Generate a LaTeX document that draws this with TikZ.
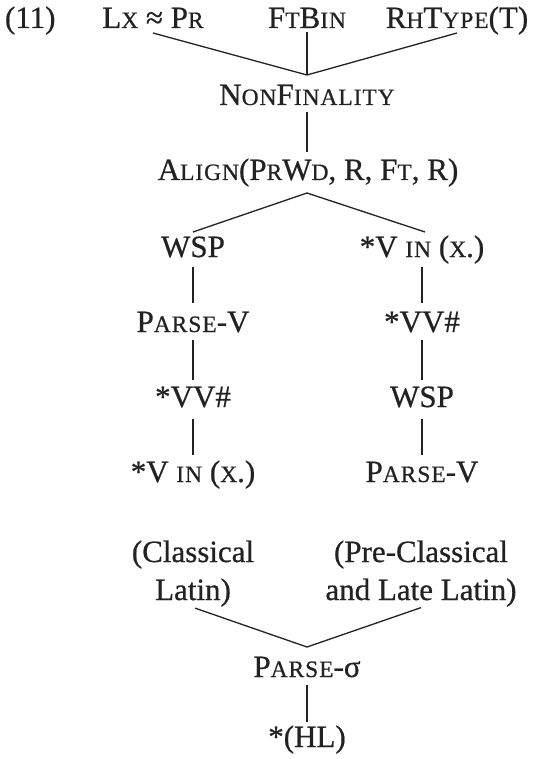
\documentclass[tikz,border=0pt]{standalone}
\usepackage{fontspec}
\setmainfont[FakeBold=0.6]{Liberation Serif}
\newfontfamily\scf[LetterSpace=4,FakeBold=0.6]{Liberation Serif}
\newcommand\smc[1]{{\fontsize{23.5}{24}\scf #1}}
\usetikzlibrary{calc}
\definecolor{ink}{HTML}{222222}
\begin{document}
\begin{tikzpicture}[x=1pt,y=-1pt,
  lab/.style={font=\fontsize{31}{38}\selectfont, text=ink, inner sep=0pt, outer sep=0pt,
              anchor=base, text height=20pt, text depth=0pt},
  two/.style={font=\fontsize{31}{38}\selectfont, text=ink, inner sep=0pt, outer sep=0pt,
              anchor=north, align=center},
  edge/.style={draw=ink, line width=1.3pt}]
\useasboundingbox[fill=white] (0,0) rectangle (537,759);

% top row
\node[lab, anchor=base west] (n11) at (5,28) {(11)};
\node[lab] (lx) at (153,28) {L\smc{X} ≈ P\smc{R}};
\node[lab] (ft) at (307,28) {F\smc{T}B\smc{IN}};
\node[lab] (rh) at (457,28) {R\smc{H}T\smc{YPE}(T)};

\node[lab] (nf) at (307,105) {N\smc{ON}F\smc{INALITY}};
\node[lab] (al) at (308,180) {A\smc{LIGN}(P\smc{R}W\smc{D}, R, F\smc{T}, R)};

% left column
\node[lab] (wsp1) at (193,257) {WSP};
\node[lab] (pv1)  at (193,332) {P\smc{ARSE}-V};
\node[lab] (vv1)  at (193,407) {*VV\#};
\node[lab] (vin2) at (193,482) {*V \smc{IN} (\smc{X}.)};

% right column
\node[lab] (vin1) at (422,257) {*V \smc{IN} (\smc{X}.)};
\node[lab] (vv2)  at (422,332) {*VV\#};
\node[lab] (wsp2) at (422,407) {WSP};
\node[lab] (pv2)  at (422,482) {P\smc{ARSE}-V};

% language labels
\node[two] (cl)  at (193,540.5) {(Classical\\Latin)};
\node[two] (pcl) at (421,540.5) {(Pre-Classical\\and Late Latin)};

\node[lab] (ps) at (307,677) {P\smc{ARSE}-σ};
\node[lab] (hl) at (307,747) {*(HL)};

% connectors
\draw[edge] ([yshift=-5pt]lx.south) -- ([yshift=10pt]nf.north);
\draw[edge] ([yshift=-4pt]ft.south) -- ([yshift=10pt]nf.north);
\draw[edge] ([yshift=-5pt]rh.south) -- ([yshift=10pt]nf.north);
\draw[edge] ([yshift=-7pt]nf.south) -- ([xshift=-1pt,yshift=8pt]al.north);
\draw[edge] ([xshift=-1pt,yshift=-13pt]al.south) -- ([yshift=5pt]wsp1.north);
\draw[edge] ([xshift=-1pt,yshift=-13pt]al.south) -- ([xshift=3pt,yshift=5pt]vin1.north);
\draw[edge] ([yshift=-10pt]wsp1.south) -- ([yshift=9pt]pv1.north);
\draw[edge] ([yshift=-8pt]pv1.south) -- ([yshift=7pt]vv1.north);
\draw[edge] ([yshift=-12pt]vv1.south) -- ([yshift=7pt]vin2.north);
\draw[edge] ([yshift=-10pt]vin1.south) -- ([yshift=9pt]vv2.north);
\draw[edge] ([yshift=-8pt]vv2.south) -- ([yshift=7pt]wsp2.north);
\draw[edge] ([yshift=-12pt]wsp2.south) -- ([yshift=7pt]pv2.north);
\draw[edge] ([xshift=2pt,yshift=-1.5pt]cl.south) -- ([yshift=10pt]ps.north);
\draw[edge] ([yshift=-1pt]pcl.south) -- ([yshift=10pt]ps.north);
\draw[edge] ([yshift=-8pt]ps.south) -- ([yshift=5pt]hl.north);
\end{tikzpicture}
\end{document}
